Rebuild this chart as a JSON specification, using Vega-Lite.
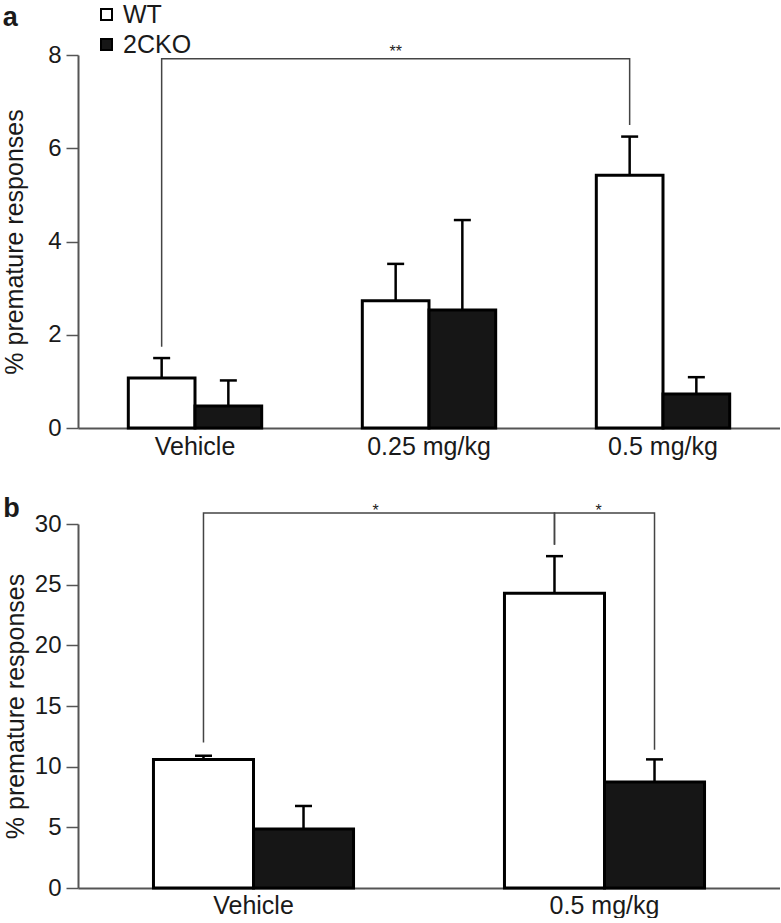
{
  "$schema": "https://vega.github.io/schema/vega-lite/v6.json",
  "padding": {"left": 2, "top": 2, "right": 0, "bottom": 0},
  "bounds": "flush",
  "spacing": 96,
  "background": "white",
  "config": {
    "font": "Liberation Sans",
    "view": {"stroke": null},
    "axis": {
      "labelFont": "Liberation Sans", "labelFontSize": 24, "labelColor": "#1a1a1a",
      "titleFont": "Liberation Sans", "titleFontSize": 25, "titleFontWeight": "normal", "titleColor": "#1a1a1a",
      "domainColor": "#555", "domainWidth": 2, "tickColor": "#555", "tickWidth": 1.5, "grid": false
    },
    "title": {"font": "Liberation Sans", "fontSize": 27, "fontWeight": "bold", "anchor": "start", "frame": "bounds", "color": "#1a1a1a"}
  },
  "datasets": {
    "barsA": [
      {"dose": "Vehicle", "genotype": "WT", "value": 1.07, "upper": 1.5},
      {"dose": "Vehicle", "genotype": "2CKO", "value": 0.47, "upper": 1.02},
      {"dose": "0.25 mg/kg", "genotype": "WT", "value": 2.73, "upper": 3.52},
      {"dose": "0.25 mg/kg", "genotype": "2CKO", "value": 2.53, "upper": 4.46},
      {"dose": "0.5 mg/kg", "genotype": "WT", "value": 5.42, "upper": 6.25},
      {"dose": "0.5 mg/kg", "genotype": "2CKO", "value": 0.73, "upper": 1.09}
    ],
    "bracketA": [
      {"dose": "Vehicle", "genotype": "WT", "y": 1.74, "o": 1},
      {"dose": "Vehicle", "genotype": "WT", "y": 7.92, "o": 2},
      {"dose": "0.5 mg/kg", "genotype": "WT", "y": 7.92, "o": 3},
      {"dose": "0.5 mg/kg", "genotype": "WT", "y": 6.5, "o": 4}
    ],
    "starA": [{"dose": "0.25 mg/kg", "genotype": "WT", "y": 7.92, "label": "**"}],
    "barsB": [
      {"dose": "Vehicle", "genotype": "WT", "value": 10.6, "upper": 10.9},
      {"dose": "Vehicle", "genotype": "2CKO", "value": 4.86, "upper": 6.76},
      {"dose": "0.5 mg/kg", "genotype": "WT", "value": 24.3, "upper": 27.35},
      {"dose": "0.5 mg/kg", "genotype": "2CKO", "value": 8.74, "upper": 10.6}
    ],
    "bracketB1": [
      {"dose": "Vehicle", "genotype": "WT", "y": 12.0, "o": 1},
      {"dose": "Vehicle", "genotype": "WT", "y": 30.9, "o": 2},
      {"dose": "0.5 mg/kg", "genotype": "WT", "y": 30.9, "o": 3},
      {"dose": "0.5 mg/kg", "genotype": "WT", "y": 28.3, "o": 4}
    ],
    "bracketB2": [
      {"dose": "0.5 mg/kg", "genotype": "WT", "y": 28.3, "o": 1},
      {"dose": "0.5 mg/kg", "genotype": "WT", "y": 30.9, "o": 2},
      {"dose": "0.5 mg/kg", "genotype": "2CKO", "y": 30.9, "o": 3},
      {"dose": "0.5 mg/kg", "genotype": "2CKO", "y": 11.4, "o": 4}
    ],
    "starB1": [{"dose": "Vehicle", "y": 30.9, "label": "*"}],
    "starB2": [{"dose": "0.5 mg/kg", "y": 30.9, "label": "*"}]
  },
  "resolve": {
    "scale": {"x": "independent", "y": "independent", "color": "independent", "fill": "independent", "xOffset": "independent"},
    "legend": {"fill": "independent"}
  },
  "vconcat": [
    {
      "width": 702,
      "height": 373,
      "title": {"text": "a", "dy": 34},
      "layer": [
        {
          "data": {"name": "barsA"},
          "mark": {"type": "bar", "stroke": "black", "strokeWidth": 3},
          "encoding": {
            "x": {"field": "dose", "type": "nominal", "scale": {"domain": ["Vehicle", "0.25 mg/kg", "0.5 mg/kg"], "paddingInner": 0.43, "paddingOuter": 0.215}, "axis": {"title": null, "labelAngle": 0, "ticks": false, "labelPadding": 6, "labelFontSize": 25}},
            "xOffset": {"field": "genotype", "type": "nominal", "scale": {"domain": ["WT", "2CKO"], "paddingInner": 0, "paddingOuter": 0}},
            "y": {"field": "value", "type": "quantitative", "scale": {"domain": [0, 8]}, "axis": {"title": "% premature responses", "values": [0, 2, 4, 6, 8], "tickSize": 12, "labelPadding": 5, "titlePadding": 20}},
            "fill": {"field": "genotype", "type": "nominal", "scale": {"domain": ["WT", "2CKO"], "range": ["white", "#161616"]},
              "legend": {"title": null, "orient": "none", "legendX": 16, "legendY": -53, "direction": "vertical", "symbolType": "square", "symbolSize": 121, "symbolStrokeColor": "black", "symbolStrokeWidth": 2, "labelFontSize": 25, "labelFont": "Liberation Sans", "labelColor": "#1a1a1a", "rowPadding": 4, "labelOffset": 4, "padding": 0}}
          }
        },
        {
          "data": {"name": "barsA"},
          "mark": {"type": "rule", "stroke": "black", "strokeWidth": 2.5},
          "encoding": {
            "x": {"field": "dose", "type": "nominal"},
            "xOffset": {"field": "genotype", "type": "nominal"},
            "y": {"field": "value", "type": "quantitative"},
            "y2": {"field": "upper"}
          }
        },
        {
          "data": {"name": "barsA"},
          "mark": {"type": "tick", "color": "black", "thickness": 2.5, "size": 17, "opacity": 1},
          "encoding": {
            "x": {"field": "dose", "type": "nominal"},
            "xOffset": {"field": "genotype", "type": "nominal"},
            "y": {"field": "upper", "type": "quantitative"}
          }
        },
        {
          "data": {"name": "bracketA"},
          "mark": {"type": "line", "stroke": "#444", "strokeWidth": 1.5},
          "encoding": {
            "x": {"field": "dose", "type": "nominal"},
            "xOffset": {"field": "genotype", "type": "nominal"},
            "y": {"field": "y", "type": "quantitative"},
            "order": {"field": "o"}
          }
        },
        {
          "data": {"name": "starA"},
          "mark": {"type": "text", "fontSize": 16, "dy": -2, "baseline": "alphabetic", "color": "#1a1a1a"},
          "encoding": {
            "x": {"field": "dose", "type": "nominal"},
            "xOffset": {"field": "genotype", "type": "nominal"},
            "y": {"field": "y", "type": "quantitative"},
            "text": {"field": "label"}
          }
        }
      ]
    },
    {
      "width": 702,
      "height": 364,
      "title": {"text": "b", "dy": 24},
      "layer": [
        {
          "data": {"name": "barsB"},
          "mark": {"type": "bar", "stroke": "black", "strokeWidth": 3},
          "encoding": {
            "x": {"field": "dose", "type": "nominal", "scale": {"domain": ["Vehicle", "0.5 mg/kg"], "paddingInner": 0.43, "paddingOuter": 0.215}, "axis": {"title": null, "labelAngle": 0, "ticks": false, "labelPadding": 5, "labelFontSize": 25}},
            "xOffset": {"field": "genotype", "type": "nominal", "scale": {"domain": ["WT", "2CKO"], "paddingInner": 0, "paddingOuter": 0}},
            "y": {"field": "value", "type": "quantitative", "scale": {"domain": [0, 30]}, "axis": {"title": "% premature responses", "values": [0, 5, 10, 15, 20, 25, 30], "tickSize": 12, "labelPadding": 5, "titlePadding": 6}},
            "fill": {"field": "genotype", "type": "nominal", "scale": {"domain": ["WT", "2CKO"], "range": ["white", "#161616"]}, "legend": null}
          }
        },
        {
          "data": {"name": "barsB"},
          "mark": {"type": "rule", "stroke": "black", "strokeWidth": 2.5},
          "encoding": {
            "x": {"field": "dose", "type": "nominal"},
            "xOffset": {"field": "genotype", "type": "nominal"},
            "y": {"field": "value", "type": "quantitative"},
            "y2": {"field": "upper"}
          }
        },
        {
          "data": {"name": "barsB"},
          "mark": {"type": "tick", "color": "black", "thickness": 2.5, "size": 17, "opacity": 1},
          "encoding": {
            "x": {"field": "dose", "type": "nominal"},
            "xOffset": {"field": "genotype", "type": "nominal"},
            "y": {"field": "upper", "type": "quantitative"}
          }
        },
        {
          "data": {"name": "bracketB1"},
          "mark": {"type": "line", "stroke": "#444", "strokeWidth": 1.5, "xOffset": -3},
          "encoding": {
            "x": {"field": "dose", "type": "nominal"},
            "xOffset": {"field": "genotype", "type": "nominal"},
            "y": {"field": "y", "type": "quantitative"},
            "order": {"field": "o"}
          }
        },
        {
          "data": {"name": "bracketB2"},
          "mark": {"type": "line", "stroke": "#444", "strokeWidth": 1.5, "xOffset": 3},
          "encoding": {
            "x": {"field": "dose", "type": "nominal"},
            "xOffset": {"field": "genotype", "type": "nominal"},
            "y": {"field": "y", "type": "quantitative"},
            "order": {"field": "o"}
          }
        },
        {
          "data": {"name": "starB1"},
          "mark": {"type": "text", "fontSize": 16, "dy": 3, "baseline": "alphabetic", "color": "#1a1a1a"},
          "encoding": {
            "x": {"field": "dose", "type": "nominal", "bandPosition": 1.11},
            "y": {"field": "y", "type": "quantitative"},
            "text": {"field": "label"}
          }
        },
        {
          "data": {"name": "starB2"},
          "mark": {"type": "text", "fontSize": 16, "dy": 3, "baseline": "alphabetic", "color": "#1a1a1a"},
          "encoding": {
            "x": {"field": "dose", "type": "nominal", "bandPosition": 0.47},
            "y": {"field": "y", "type": "quantitative"},
            "text": {"field": "label"}
          }
        }
      ]
    }
  ]
}
